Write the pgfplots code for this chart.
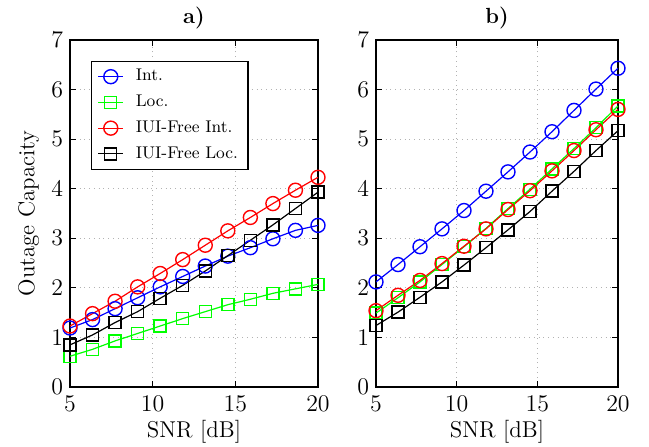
\documentclass[border=0pt]{standalone}
\usepackage{pgfplots}
\pgfplotsset{compat=1.18}

\pgfplotsset{
  panel/.style={
    scale only axis,
    xmin=5, xmax=20, ymin=0, ymax=7,
    xtick={5,10,15,20}, ytick={0,1,...,7},
    tick align=inside,
    major tick length=3bp,
    tick style={black, line width=0.5pt},
    axis line style={line width=0.6pt},
    grid=major,
    grid style={gray!60, dotted, line width=0.4pt},
    tick label style={font=\fontsize{11.5}{13}\selectfont},
    label style={font=\fontsize{11.5}{13}\selectfont},
    title style={font=\fontsize{11}{13}\selectfont\bfseries,
                 at={(axis description cs:0.5,1)}, anchor=south, yshift=-4bp},
    xticklabel style={yshift=-1bp},
    xlabel={SNR [dB]},
    xlabel style={at={(axis description cs:0.5,0)}, anchor=north, yshift=-13bp},
  },
  int/.style={blue, line width=0.6pt, mark=o, mark size=3.5bp,
              mark options={solid, line width=0.7pt}},
  loc/.style={green, line width=0.6pt, mark=square, mark size=3bp,
              mark options={solid, line width=0.7pt}},
  iint/.style={red, line width=0.6pt, mark=o, mark size=3.5bp,
               mark options={solid, line width=0.7pt}},
  iloc/.style={black, line width=0.6pt, mark=square, mark size=3bp,
               mark options={solid, line width=0.7pt}},
}

\begin{document}
\begin{tikzpicture}
\useasboundingbox (0,0) rectangle (324.5bp,223.5bp);

% panel a
\begin{axis}[
  panel,
  at={(35bp,30bp)}, anchor=south west,
  width=124bp, height=173.5bp,
  title={a)},
  ylabel={Outage Capacity},
  ylabel style={at={(axis description cs:0,0.5)}, anchor=south, yshift=12bp},
  legend cell align=left,
  legend style={at={(rel axis cs:0.085,0.94)}, anchor=north west,
    draw=black, line width=0.6pt, fill=white,
    font=\fontsize{8.5}{10}\selectfont,
    row sep=1.6bp, column sep=4bp, inner xsep=3bp, inner ysep=2bp},
  legend image code/.code={
    \draw[mark repeat=2, mark phase=2]
      plot coordinates {(0bp,0bp) (6.25bp,0bp) (12.5bp,0bp)};},
]
\addplot[int] coordinates {(5,1.19)(6.364,1.36)(7.727,1.58)(9.091,1.80)(10.455,2.02)(11.818,2.23)
  (13.182,2.44)(14.545,2.64)(15.909,2.81)(17.273,2.99)(18.636,3.16)(20,3.26)};
\addlegendentry{Int.}
\addplot[loc] coordinates {(5,0.62)(6.364,0.76)(7.727,0.93)(9.091,1.08)(10.455,1.23)(11.818,1.38)
  (13.182,1.52)(14.545,1.66)(15.909,1.77)(17.273,1.89)(18.636,1.98)(20,2.07)};
\addlegendentry{Loc.}
\addplot[iint] coordinates {(5,1.23)(6.364,1.48)(7.727,1.73)(9.091,2.02)(10.455,2.29)(11.818,2.57)
  (13.182,2.86)(14.545,3.15)(15.909,3.42)(17.273,3.70)(18.636,3.97)(20,4.23)};
\addlegendentry{IUI-Free Int.}
\addplot[iloc] coordinates {(5,0.85)(6.364,1.05)(7.727,1.30)(9.091,1.52)(10.455,1.79)(11.818,2.05)
  (13.182,2.34)(14.545,2.65)(15.909,2.96)(17.273,3.27)(18.636,3.60)(20,3.93)};
\addlegendentry{IUI-Free Loc.\hspace{4bp}}
\end{axis}

% panel b
\begin{axis}[
  panel,
  at={(188bp,30bp)}, anchor=south west,
  width=121bp, height=173.5bp,
  title={b)},
]
\addplot[int] coordinates {(5,2.12)(6.364,2.47)(7.727,2.83)(9.091,3.19)(10.455,3.56)(11.818,3.95)
  (13.182,4.34)(14.545,4.74)(15.909,5.15)(17.273,5.58)(18.636,6.01)(20,6.43)};
\addplot[loc] coordinates {(5,1.49)(6.364,1.80)(7.727,2.12)(9.091,2.47)(10.455,2.83)(11.818,3.20)
  (13.182,3.60)(14.545,3.99)(15.909,4.40)(17.273,4.81)(18.636,5.23)(20,5.67)};
\addplot[iint] coordinates {(5,1.54)(6.364,1.85)(7.727,2.15)(9.091,2.49)(10.455,2.84)(11.818,3.19)
  (13.182,3.58)(14.545,3.96)(15.909,4.36)(17.273,4.77)(18.636,5.19)(20,5.60)};
\addplot[iloc] coordinates {(5,1.24)(6.364,1.51)(7.727,1.81)(9.091,2.12)(10.455,2.46)(11.818,2.81)
  (13.182,3.17)(14.545,3.54)(15.909,3.95)(17.273,4.35)(18.636,4.77)(20,5.17)};
\end{axis}
\end{tikzpicture}
\end{document}
